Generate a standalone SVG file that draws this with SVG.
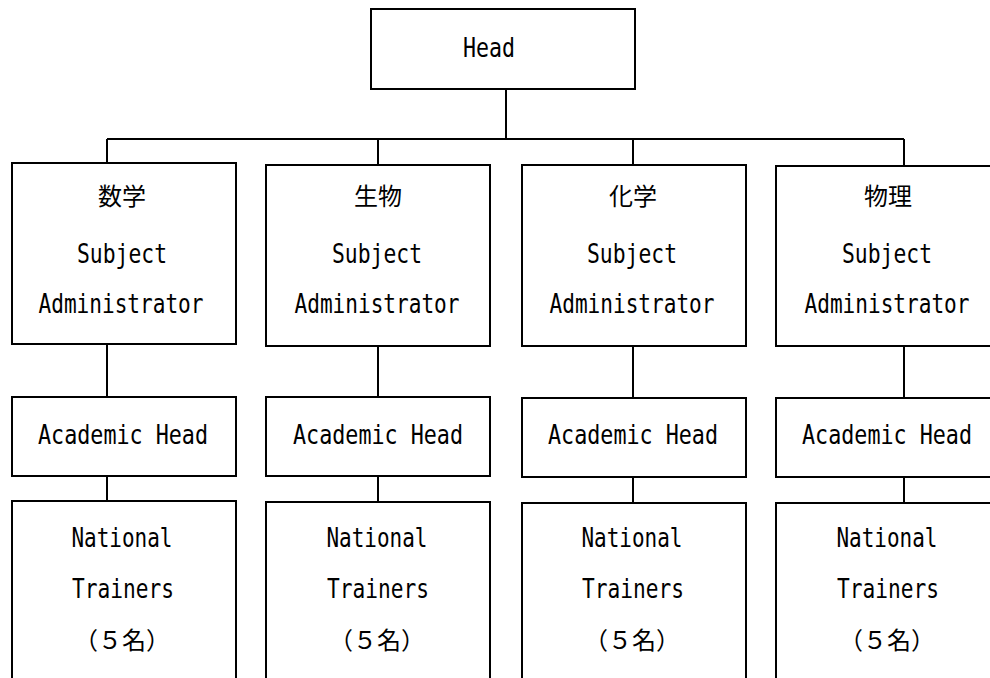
<svg xmlns="http://www.w3.org/2000/svg" width="990" height="678" viewBox="0 0 990 678">
  <style>
    .box { fill: #ffffff; stroke: #000000; stroke-width: 2; }
    .wire { fill: none; stroke: #000000; stroke-width: 2; }
    .lat { font-family: "DejaVu Sans Mono", "Liberation Mono", monospace; font-size: 27px; fill: #000000; text-anchor: middle; }
    .cjk { font-family: "Noto Sans CJK JP", "Noto Sans CJK SC", sans-serif; font-size: 24px; fill: #000000; text-anchor: middle; }
  </style>
  <rect width="990" height="678" fill="#ffffff"/>

  <!-- connectors -->
  <g id="connectors" class="wire">
    <path d="M506 89 V139"/>
    <path d="M107 139 H904"/>
    <path d="M107 139 V163 M378 139 V165 M633 139 V165 M904 139 V166"/>
    <path d="M107 344 V397 M378 346 V397 M633 346 V398 M904 346 V398"/>
    <path d="M107 476 V501 M378 476 V502 M633 477 V503 M904 477 V503"/>
  </g>

  <!-- top -->
  <g id="head">
    <rect class="box" x="371" y="9" width="264" height="80"/>
    <text class="lat" x="489" y="57" textLength="52" lengthAdjust="spacingAndGlyphs">Head</text>
  </g>

  <!-- mathematics -->
  <g id="admin-math">
    <rect class="box" x="12" y="163" width="224" height="181"/>
    <text class="cjk" x="122" y="205">数学</text>
    <text class="lat" x="122" y="263" textLength="90" lengthAdjust="spacingAndGlyphs">Subject</text>
    <text class="lat" x="121" y="313" textLength="165" lengthAdjust="spacingAndGlyphs">Administrator</text>
  </g>
  <g id="academic-math">
    <rect class="box" x="12" y="397" width="224" height="79"/>
    <text class="lat" x="123" y="444" textLength="170" lengthAdjust="spacingAndGlyphs">Academic Head</text>
  </g>
  <g id="trainers-math">
    <rect class="box" x="12" y="501" width="224" height="190"/>
    <text class="lat" x="122" y="547" textLength="101" lengthAdjust="spacingAndGlyphs">National</text>
    <text class="lat" x="123" y="598" textLength="102" lengthAdjust="spacingAndGlyphs">Trainers</text>
    <text class="cjk" x="122" y="649">（５名）</text>
  </g>

  <!-- biology -->
  <g id="admin-bio">
    <rect class="box" x="266" y="165" width="224" height="181"/>
    <text class="cjk" x="378" y="205">生物</text>
    <text class="lat" x="377" y="263" textLength="90" lengthAdjust="spacingAndGlyphs">Subject</text>
    <text class="lat" x="377" y="313" textLength="165" lengthAdjust="spacingAndGlyphs">Administrator</text>
  </g>
  <g id="academic-bio">
    <rect class="box" x="266" y="397" width="224" height="79"/>
    <text class="lat" x="378" y="444" textLength="170" lengthAdjust="spacingAndGlyphs">Academic Head</text>
  </g>
  <g id="trainers-bio">
    <rect class="box" x="266" y="502" width="224" height="190"/>
    <text class="lat" x="377" y="547" textLength="101" lengthAdjust="spacingAndGlyphs">National</text>
    <text class="lat" x="378" y="598" textLength="102" lengthAdjust="spacingAndGlyphs">Trainers</text>
    <text class="cjk" x="377" y="649">（５名）</text>
  </g>

  <!-- chemistry -->
  <g id="admin-chem">
    <rect class="box" x="522" y="165" width="224" height="181"/>
    <text class="cjk" x="633" y="205">化学</text>
    <text class="lat" x="632" y="263" textLength="90" lengthAdjust="spacingAndGlyphs">Subject</text>
    <text class="lat" x="632" y="313" textLength="165" lengthAdjust="spacingAndGlyphs">Administrator</text>
  </g>
  <g id="academic-chem">
    <rect class="box" x="522" y="398" width="224" height="79"/>
    <text class="lat" x="633" y="444" textLength="170" lengthAdjust="spacingAndGlyphs">Academic Head</text>
  </g>
  <g id="trainers-chem">
    <rect class="box" x="522" y="503" width="224" height="190"/>
    <text class="lat" x="632" y="547" textLength="101" lengthAdjust="spacingAndGlyphs">National</text>
    <text class="lat" x="633" y="598" textLength="102" lengthAdjust="spacingAndGlyphs">Trainers</text>
    <text class="cjk" x="632" y="649">（５名）</text>
  </g>

  <!-- physics -->
  <g id="admin-phys">
    <rect class="box" x="776" y="166" width="224" height="180"/>
    <text class="cjk" x="888" y="205">物理</text>
    <text class="lat" x="887" y="263" textLength="90" lengthAdjust="spacingAndGlyphs">Subject</text>
    <text class="lat" x="887" y="313" textLength="165" lengthAdjust="spacingAndGlyphs">Administrator</text>
  </g>
  <g id="academic-phys">
    <rect class="box" x="776" y="398" width="224" height="79"/>
    <text class="lat" x="887" y="444" textLength="170" lengthAdjust="spacingAndGlyphs">Academic Head</text>
  </g>
  <g id="trainers-phys">
    <rect class="box" x="776" y="503" width="224" height="190"/>
    <text class="lat" x="887" y="547" textLength="101" lengthAdjust="spacingAndGlyphs">National</text>
    <text class="lat" x="888" y="598" textLength="102" lengthAdjust="spacingAndGlyphs">Trainers</text>
    <text class="cjk" x="887" y="649">（５名）</text>
  </g>
</svg>
